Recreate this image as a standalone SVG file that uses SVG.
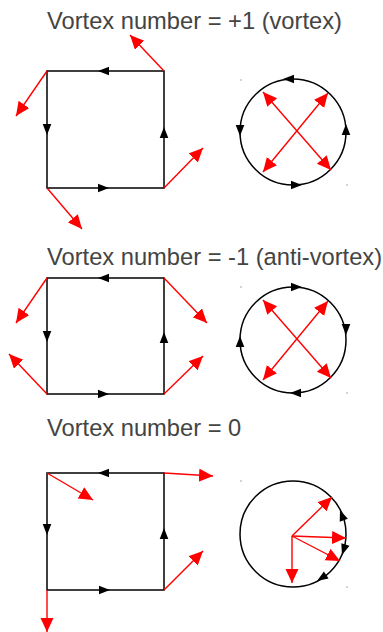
<svg xmlns="http://www.w3.org/2000/svg" xmlns:xlink="http://www.w3.org/1999/xlink" width="383" height="632" viewBox="0 0 383 632">
<style>
.t{font-family:"Liberation Sans",Arial,sans-serif;font-size:23.7px;fill:#444}
.k{fill:none;stroke:#000;stroke-width:1.5}
.r{fill:none;stroke:#f00;stroke-width:1.4;marker-end:url(#rh)}
.rr{fill:none;stroke:#f00;stroke-width:1.4;marker-end:url(#rh);marker-start:url(#rh)}
.d{fill:#555}
</style>
<defs>
<marker id="rh" markerUnits="userSpaceOnUse" markerWidth="16" markerHeight="15" refX="14" refY="6.5" orient="auto-start-reverse" viewBox="0 0 16 15">
<path d="M0,0 L14,6.5 L0,13 z" fill="#f00"/>
</marker>
<path id="bh" d="M0,0 L-11,-4.3 L-11,4.3 z" fill="#000"/>
</defs>

<g id="panel1">
<text class="t" x="47" y="29">Vortex number = +1 (vortex)</text>
<g id="square1">
<rect class="k" x="47" y="71" width="117" height="117"/>
<use xlink:href="#bh" transform="translate(98,71) rotate(180)"/>
<use xlink:href="#bh" transform="translate(109,188)"/>
<use xlink:href="#bh" transform="translate(47,135) rotate(90)"/>
<use xlink:href="#bh" transform="translate(164,127) rotate(-90)"/>
</g>
<g id="circle1">
<circle class="k" cx="293" cy="132" r="53"/>
<use xlink:href="#bh" transform="translate(283,79) rotate(180)"/>
<use xlink:href="#bh" transform="translate(302,185)"/>
<use xlink:href="#bh" transform="translate(240,136) rotate(90)"/>
<use xlink:href="#bh" transform="translate(346,124) rotate(-90)"/>
<rect class="d" x="240.5" y="79.5" width="1" height="1"/>
<rect class="d" x="346.5" y="184.5" width="1" height="1"/>
</g>
<g id="vectors1">
<path class="r" d="M164,71 L130,35"/>
<path class="r" d="M47,71 L16,116"/>
<path class="r" d="M164,188 L203,148"/>
<path class="r" d="M47,188 L82,229"/>
<path class="rr" d="M263,92 L331,170"/>
<path class="rr" d="M328,93 L263,172"/>
</g>
</g>

<g id="panel2">
<text class="t" x="47" y="265">Vortex number = -1 (anti-vortex)</text>
<g id="square2">
<rect class="k" x="47" y="278" width="117" height="116"/>
<use xlink:href="#bh" transform="translate(98,278) rotate(180)"/>
<use xlink:href="#bh" transform="translate(109,394)"/>
<use xlink:href="#bh" transform="translate(47,342) rotate(90)"/>
<use xlink:href="#bh" transform="translate(164,332) rotate(-90)"/>
</g>
<g id="circle2">
<circle class="k" cx="293" cy="340" r="53"/>
<use xlink:href="#bh" transform="translate(302,287)"/>
<use xlink:href="#bh" transform="translate(290,393) rotate(180)"/>
<use xlink:href="#bh" transform="translate(240,336) rotate(-90)"/>
<use xlink:href="#bh" transform="translate(346,335) rotate(90)"/>
<rect class="d" x="240.5" y="286.5" width="1" height="1"/>
<rect class="d" x="346.5" y="392.5" width="1" height="1"/>
</g>
<g id="vectors2">
<path class="r" d="M47,278 L16,323"/>
<path class="r" d="M164,278 L207,323"/>
<path class="r" d="M47,394 L9,354"/>
<path class="r" d="M164,394 L203,356"/>
<path class="rr" d="M263,300 L331,378"/>
<path class="rr" d="M328,301 L263,380"/>
</g>
</g>

<g id="panel3">
<text class="t" x="47" y="436">Vortex number = 0</text>
<g id="square3">
<rect class="k" x="47" y="473" width="117" height="117"/>
<use xlink:href="#bh" transform="translate(98,473) rotate(180)"/>
<use xlink:href="#bh" transform="translate(110,590)"/>
<use xlink:href="#bh" transform="translate(47,535) rotate(90)"/>
<use xlink:href="#bh" transform="translate(164,528) rotate(-90)"/>
</g>
<g id="circle3">
<circle class="k" cx="293" cy="534" r="53"/>
<use xlink:href="#bh" transform="translate(340,510) rotate(-110)"/>
<use xlink:href="#bh" transform="translate(342,555) rotate(108)"/>
<use xlink:href="#bh" transform="translate(317,581) rotate(147)"/>
<rect class="d" x="240.5" y="480.5" width="1" height="1"/>
<rect class="d" x="346.5" y="586.5" width="1" height="1"/>
</g>
<g id="vectors3">
<path class="r" d="M47,473 L93,500"/>
<path class="r" d="M164,473 L213,476"/>
<path class="r" d="M164,590 L203,551"/>
<path class="r" d="M47,590 L47,632"/>
<path class="r" d="M292,536 L332,497"/>
<path class="r" d="M292,536 L346,538"/>
<path class="r" d="M292,536 L340,561"/>
<path class="r" d="M292,536 L292,583"/>
</g>
</g>
</svg>
